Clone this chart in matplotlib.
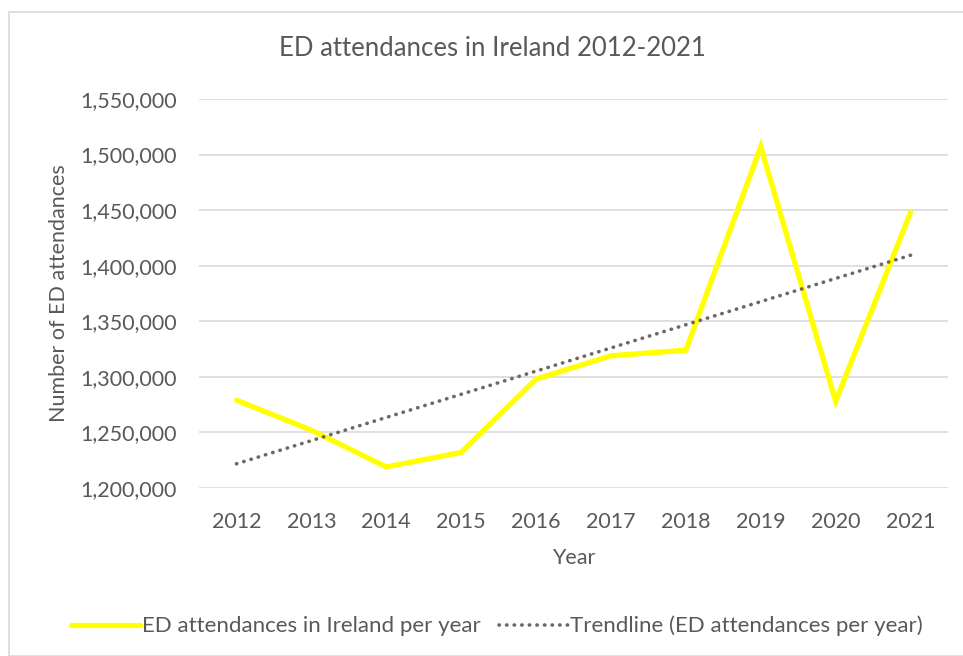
import numpy as np
import matplotlib.pyplot as plt
from matplotlib.patches import Rectangle
from matplotlib.ticker import FuncFormatter

# datos
years = ['2012', '2013', '2014', '2015', '2016', '2017', '2018', '2019', '2020', '2021']
attendances = [1279000, 1252000, 1219000, 1232000, 1298000, 1319000, 1324000, 1507000, 1278000, 1448000]

plt.rcParams['font.family'] = ['Lato', 'DejaVu Sans']

x = np.arange(len(years))
# linea de tendencia lineal
m, b = np.polyfit(x, attendances, 1)
trend = m * x + b

fig = plt.figure(figsize=(9.63, 6.56), dpi=100)
ax = fig.add_axes([199 / 963, 1 - 488 / 656, 749 / 963, 389 / 656])

# marco del grafico
fig.patches.append(Rectangle((8.5 / 963, 0), 1, 1 - 11.5 / 656, transform=fig.transFigure,
                             fill=False, edgecolor='#d9d9d9', linewidth=1.2))

ax.plot(x, attendances, color='#ffff00', linewidth=3.8, solid_capstyle='round',
        solid_joinstyle='miter', label='ED attendances in Ireland per year', zorder=3)
ax.plot(x, trend, color='#736660', linewidth=2.6, linestyle=(0, (0.1, 2.0)),
        dash_capstyle='round', label='Trendline (ED attendances per year)', zorder=4)

ax.set_xlim(-0.5, 9.5)
ax.set_ylim(1200000, 1550000)
ax.set_yticks(np.arange(1200000, 1550001, 50000))
ax.yaxis.set_major_formatter(FuncFormatter(lambda v, p: f'{int(v):,}'))
ax.set_xticks(x)
ax.set_xticklabels(years)

ax.grid(axis='y', color='#d9d9d9', linewidth=1.2)
ax.set_axisbelow(True)
for s in ax.spines.values():
    s.set_visible(False)
ax.tick_params(axis='both', length=0, labelsize=15.5, colors='#595959')
ax.tick_params(axis='y', pad=16)
ax.tick_params(axis='x', pad=17)

fig.text(492 / 963, 1 - 48 / 656, 'ED attendances in Ireland 2012-2021', fontsize=18.5,
         color='#595959', ha='center', va='center')
ax.set_xlabel('Year', fontsize=15.5, color='#595959', labelpad=12)
ax.set_ylabel('Number of ED attendances', fontsize=15.5, color='#595959', labelpad=8)

leg = fig.legend(loc='center', bbox_to_anchor=(497 / 963, 1 - 626 / 656), ncol=2, frameon=False,
                 fontsize=16, labelcolor='#595959', handlelength=3.1, handletextpad=0.1,
                 columnspacing=0.8)

fig.savefig('out.png', dpi=100)
